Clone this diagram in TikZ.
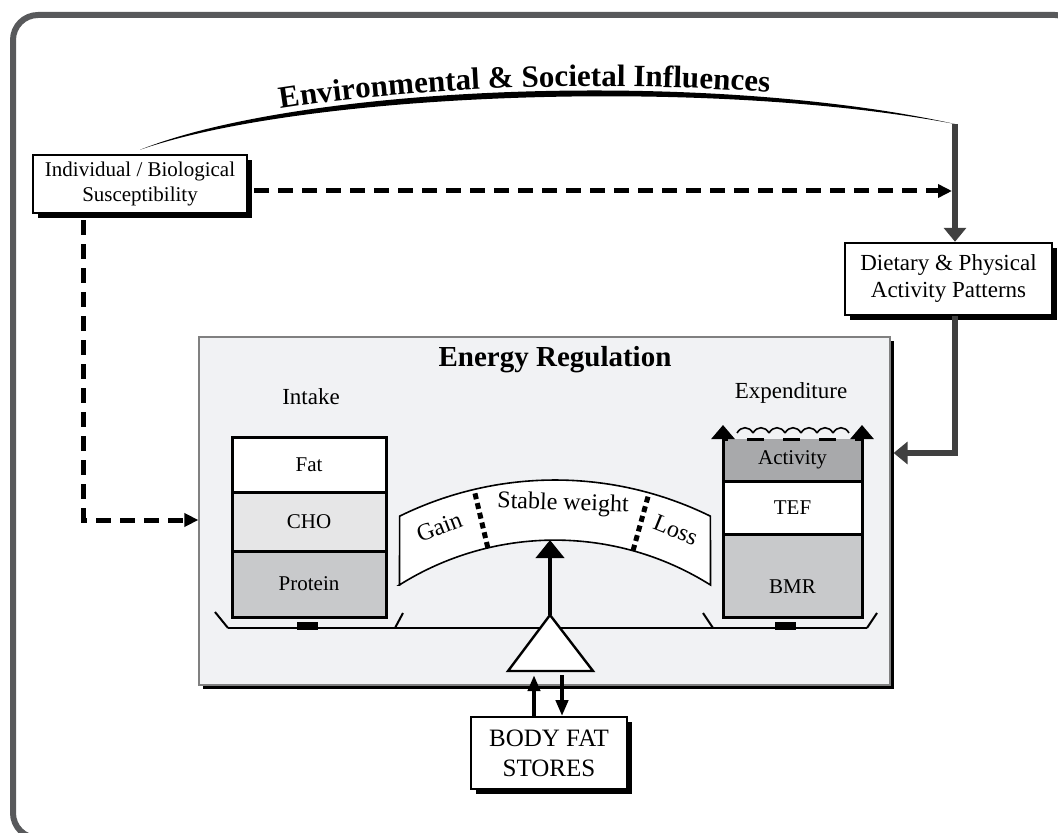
\documentclass[tikz,border=0pt]{standalone}
\usepackage{fontspec}
\setmainfont{Liberation Serif}
\usetikzlibrary{arrows.meta,positioning,calc,shadows,decorations.text}

\definecolor{framegray}{HTML}{58595B}
\definecolor{linegray}{HTML}{404040}
\definecolor{panelgray}{HTML}{F1F2F4}
\definecolor{chogray}{HTML}{E6E6E7}
\definecolor{protgray}{HTML}{C8C9CB}
\definecolor{actgray}{HTML}{A8A9AB}

\newcommand{\titlefont}{\fontsize{15.5}{18}\selectfont\bfseries}

\tikzset{
  shadowbox/.style={draw, fill=white, align=center, line width=1.2pt, inner sep=2pt,
    drop shadow={shadow xshift=2.5pt, shadow yshift=-2.5pt, fill=black, opacity=1}},
  stackbox/.style={draw, line width=1.5pt, outer sep=0pt, minimum width=77pt, font=\fontsize{10.5}{12}\selectfont},
  dasharrow/.style={line width=2.5pt, dash pattern=on 7.5pt off 4.5pt, -{Triangle[length=7pt,width=6.5pt]}},
  grayarrow/.style={linegray, line width=3pt, -{Triangle[length=7pt,width=11pt]}},
  fatarrow/.style={line width=2pt, -{Triangle[length=8pt,width=6pt]}},
  pan/.style={line width=1pt},
  gaugetext/.style={font=\fontsize{12}{14}\selectfont, inner sep=1pt},
}

\begin{document}
\begin{tikzpicture}[x=0.5pt, y=-0.5pt]
  \useasboundingbox (0,0) rectangle (1058,833);
  % frame
  \draw[framegray, line width=3pt, rounded corners=12.5pt] (13,15) rectangle (1080,838);

  % outer boxes
  \node[shadowbox, minimum width=107pt, minimum height=29pt, font=\fontsize{10.5}{12.5}\selectfont] (ind) at (140,184) {Individual / Biological\\Susceptibility};
  \node[shadowbox, minimum width=103.5pt, minimum height=36pt, font=\fontsize{11.5}{13.5}\selectfont] (diet) at (948.5,279) {Dietary \& Physical\\Activity Patterns};

  % environmental arc
  \coordinate (envstart) at ($(ind.north)+(0,-4)$);
  \coordinate (envend) at (955,124);
  \fill (envstart) .. controls (300,86) and (700,68) .. (envend) .. controls (700,76) and (300,94) .. (envstart) -- cycle;
  \path[decorate, decoration={text along path, raise=3.5pt, text align={left indent=73pt},
      text={|\titlefont|Environmental {\&} Societal Influences}}]
    (envstart) .. controls (300,90) and (700,72) .. (envend);

  % energy regulation panel
  \node[draw=gray, line width=0.6pt, fill=panelgray, minimum width=345.5pt, minimum height=174pt,
    drop shadow={shadow xshift=2pt, shadow yshift=-2pt, fill=black, opacity=1}] (ereg) at (544.5,511) {};
  \node[font=\fontsize{14.5}{17}\selectfont\bfseries] (etitle) at (555,360) {Energy Regulation};
  \node[font=\fontsize{11.5}{13}\selectfont] (intake) at (311,397) {Intake};
  \node[font=\fontsize{11.5}{13}\selectfont] (expend) at (791,393) {Expenditure};

  % intake stack
  \node[stackbox, fill=white, minimum height=27.5pt] (fat) at (309,464.5) {Fat};
  \node[stackbox, fill=chogray, minimum height=29.5pt, below=0pt of fat] (cho) {CHO};
  \node[stackbox, fill=protgray, minimum height=33pt, below=0pt of cho] (prot) {Protein};

  % expenditure stack
  \node[stackbox, draw=none, fill=actgray, minimum width=69.5pt, minimum height=21pt] (act) at (792.5,460) {Activity};
  \node[stackbox, fill=white, minimum width=69.5pt, minimum height=26.5pt, below=0pt of act] (tef) {TEF};
  \node[stackbox, fill=protgray, minimum width=69.5pt, minimum height=41.5pt, below=0pt of tef] (bmr) {};
  \node[font=\fontsize{10.5}{12}\selectfont] (bmrtext) at ($(bmr.center)+(0,11.5)$) {BMR};
  \draw[line width=1.5pt] (act.north west) -- (act.south west) (act.north east) -- (act.south east);
  \draw[line width=1.5pt, dash pattern=on 8.5pt off 9.5pt, dash phase=6pt] (act.north west) -- (act.north east);
  \foreach \i in {0,...,6}
    \draw[line width=0.8pt] (737+16*\i,433) .. controls +(4,-7) and +(-4,-7) .. (753+16*\i,433);
  \draw[line width=1.5pt, -{Triangle[length=7pt,width=11.5pt]}] (act.north west) -- ++(0,-14);
  \draw[line width=1.5pt, -{Triangle[length=7pt,width=11.5pt]}] (act.north east) -- ++(0,-14);

  % balance beam and pans
  \draw[line width=1.4pt] (228,628) -- (867,628);
  \draw[pan] (215,612) -- (228,628) (403,613) -- (395,628);
  \draw[pan] (703,613) -- (713,628) (877,613) -- (867,628);
  \fill (297,622) rectangle (318,630);
  \fill (775,622) rectangle (796,630);

  % gauge
  \coordinate (gc) at (555,832);
  \filldraw[fill=white, line width=0.8pt] (399.5,585) -- ($(gc)+(-116.2:352)$)
    arc[start angle=-116.2, end angle=-63.8, radius=352] -- (710.5,585)
    arc[start angle=-57.8, end angle=-122.2, radius=292] -- cycle;
  \draw[line width=2.5pt, dash pattern=on 3pt off 2pt] ($(gc)+(-103.3:292)$) -- ($(gc)+(-103.3:352)$);
  \draw[line width=2.5pt, dash pattern=on 3pt off 2pt] ($(gc)+(-74.5:292)$) -- ($(gc)+(-74.5:352)$);
  \node[gaugetext, rotate=21] (gain) at ($(gc)+(-110.8:326)$) {Gain};
  \node[gaugetext, rotate=-2] (stable) at ($(gc)+(-88.6:328)$) {Stable weight};
  \node[gaugetext, rotate=-22] (loss) at ($(gc)+(-68.2:325)$) {Loss};

  % fulcrum and pointer
  \coordinate (apex) at (550,615);
  \draw[line width=2pt, -{Triangle[length=9pt,width=14pt]}] (apex) -- (550,540);
  \filldraw[fill=white, line width=1.2pt] (apex) -- (593,671) -- (508,671) -- cycle;

  % body fat stores
  \node[shadowbox, line width=0.9pt, minimum width=78pt, minimum height=36pt, font=\fontsize{12.5}{15}\selectfont] (bfs) at (549,753) {BODY FAT\\STORES};
  \draw[fatarrow] ($(bfs.north)+(-15,0)$) -- ++(0,-41);
  \draw[fatarrow] ($(bfs.north)+(13,-41)$) -- ++(0,41);

  % influence connectors
  \draw[grayarrow] (envend) -- (envend |- diet.north);
  \draw[grayarrow] (envend |- diet.south) |- ($(ereg.east)+(3,-58)$);
  \coordinate (dstart) at ($(ind.east)+(6,7)$);
  \coordinate (dend) at (dstart -| envend);
  \draw[dasharrow] (dstart) -- ($(dend)+(-3,0)$);
  \draw[dasharrow] ($(ind.south west)+(52,6)$) |- ($(ereg.west)+(0,9)$);
\end{tikzpicture}
\end{document}
